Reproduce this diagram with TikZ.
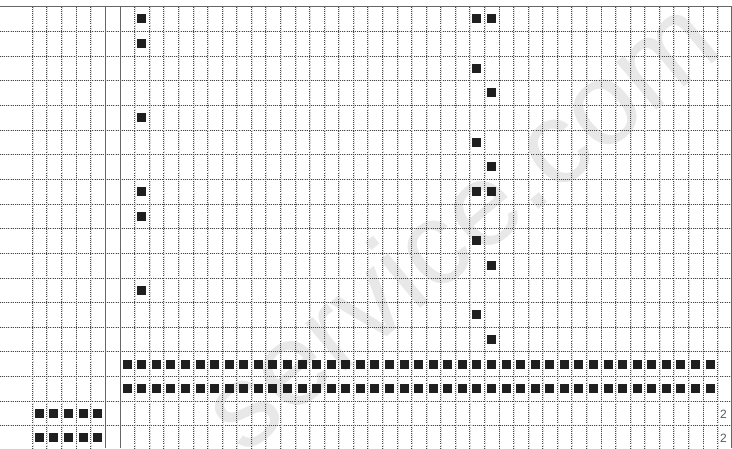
\documentclass[tikz,border=0pt]{standalone}
\usepackage{fontspec}
\setmainfont{Liberation Sans}
\usetikzlibrary{positioning}

\begin{document}
\begin{tikzpicture}[
  x=1pt, y=-1pt,
  gridshade/.style={black!16, line width=0.5pt, dash pattern=on 2pt off 1pt},
  gridline/.style={black!72, line width=0.45pt, dash pattern=on 0.6pt off 1.5pt},
  rule/.style={black!60, line width=0.9pt},
  sq/.style={draw=none, fill=black!88, minimum size=9pt, inner sep=0pt},
  num/.style={font=\fontsize{12}{12}\selectfont, text=black!65, inner sep=0pt}
]
  \useasboundingbox (0,0) rectangle (732,448);

  \node[rotate=40, text=black!9, font=\fontsize{118}{118}\selectfont] (wm) at (458,222) {service.com};

  % rows
  \foreach \k in {1,...,17} {
    \draw[gridshade] (0,{6.6+24.65*\k}) -- (732,{6.6+24.65*\k});
    \draw[gridline] (0,{6.6+24.65*\k}) -- (732,{6.6+24.65*\k});
  }
  % columns
  \foreach \x in {32,46.6,61.2,75.8,90.4} {
    \draw[gridshade] (\x+0.9,6.6) -- (\x+0.9,448);
    \draw[gridline] (\x,6.6) -- (\x,448);
  }
  \foreach \j in {1,...,41} {
    \draw[gridshade] ({120+14.571*\j+0.9},6.6) -- ({120+14.571*\j+0.9},448);
    \draw[gridline] ({120+14.571*\j},6.6) -- ({120+14.571*\j},448);
  }
  \draw[rule] (0,6.6) -- (732,6.6);
  \draw[rule] (105,6.6) -- (105,448);
  \draw[rule] (120,6.6) -- (120,448);
  \draw[rule] (731.5,6.6) -- (731.5,448);

  \foreach \r in {1,2,5,8,9,12}
    \node[sq] (a-\r) at ({120+14.571*1.5},{6.6+24.65*(\r-0.5)}) {};
  \foreach \r in {1,3,6,8,10,13}
    \node[sq] (b-\r) at ({120+14.571*24.5},{6.6+24.65*(\r-0.5)}) {};
  \foreach \r in {1,4,7,8,11,14}
    \node[sq] (c-\r) at ({120+14.571*25.5},{6.6+24.65*(\r-0.5)}) {};

  \foreach \r in {15,16}
    \foreach \j in {0,...,40}
      \node[sq] (f-\r-\j) at ({120+14.571*(\j+0.5)},{6.6+24.65*(\r-0.5)}) {};

  \foreach \r in {17,18} {
    \foreach \i in {0,...,4}
      \node[sq] (l-\r-\i) at ({32+14.6*(\i+0.5)},{6.6+24.65*(\r-0.5)}) {};
    \node[num, anchor=east] (n-\r) at (727,{6.6+24.65*(\r-0.5)+0.5}) {2};
  }
\end{tikzpicture}
\end{document}
